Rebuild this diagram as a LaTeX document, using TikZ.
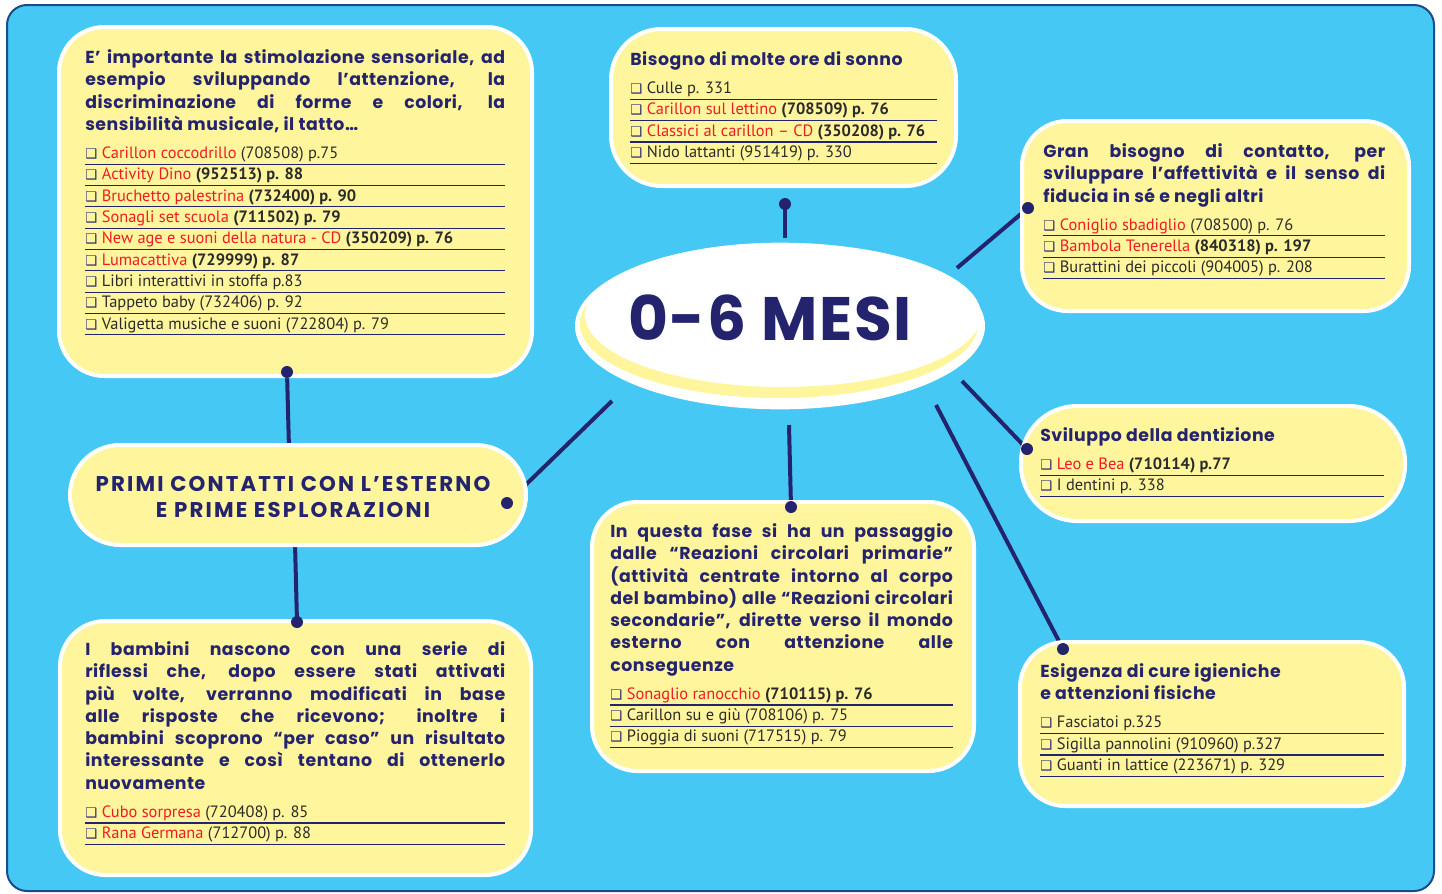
\documentclass[tikz,border=0pt]{standalone}
\usepackage{fontspec}
\setmainfont{PT Sans}
\newfontfamily\headfont{Poppins}[LetterSpace=3]
\newfontfamily\symfont{DejaVu Sans}
\usetikzlibrary{fit,shapes.geometric}

\definecolor{cielo}{HTML}{46C8F5}
\definecolor{giallo}{HTML}{FFF59C}
\definecolor{notte}{HTML}{24246E}
\definecolor{rosso}{HTML}{ED1C24}
\definecolor{bordo}{HTML}{1B4B8B}
\definecolor{scuro}{HTML}{2A2A2A}

\newcommand\quadro{{\symfont\fontsize{10}{10}\selectfont\color{notte}❑}}
\newcommand\riga[1]{\par\noindent\rlap{\color{notte}\rule[-4.7pt]{\hsize}{0.9pt}}\quadro\hspace{3.5pt}{\color{scuro}#1}}
\newcommand\rs[1]{{\color{rosso}#1}}
\newcommand\testa[1]{{\headfont\bfseries\fontsize{13}{16.7}\selectfont #1\par}\vspace{5pt}}

\tikzset{
  pannello/.style={draw=white, line width=3pt, fill=giallo, inner sep=0pt, rounded corners=#1},
  pannello/.default=34pt,
  testo/.style={anchor=north west, inner sep=0pt, align=justify, text=notte,
    font=\fontsize{12.3}{16}\selectfont},
  ellisse/.style={ellipse, inner sep=0pt, draw=none},
  filo/.style={draw=notte, line width=3pt},
  punto/.style={circle, fill=notte, inner sep=0pt, minimum size=9pt}
}

\begin{document}
\begin{tikzpicture}[x=0.75pt,y=-0.75pt]
  \useasboundingbox (0,0) rectangle (1442,893);
  \node[fit={(7,5) (1434,891)}, inner sep=0pt, draw=bordo, line width=1.5pt,
    fill=cielo, rounded corners=15pt] (sfondo) {};

  \coordinate (a1) at (785,238);  \coordinate (d1) at (785,204);
  \coordinate (a2) at (289,449);  \coordinate (d2) at (287,372);
  \coordinate (a3) at (612,401);  \coordinate (d3) at (507,503);
  \coordinate (a4) at (295,543);  \coordinate (d4) at (297,622);
  \coordinate (a5) at (789,425);  \coordinate (d5) at (791,507);
  \coordinate (a6) at (957,268);  \coordinate (d6) at (1028,208);
  \coordinate (a7) at (962,381);  \coordinate (d7) at (1027,449);
  \coordinate (a8) at (936,405);  \coordinate (d8) at (1063,649);
  \begin{scope}[filo]
    \draw (a1) -- (d1);
    \draw (a2) -- (d2);
    \draw (a3) -- (d3);
    \draw (a4) -- (d4);
    \draw (a5) -- (d5);
    \draw (a6) -- (d6);
    \draw (a7) -- (d7);
    \draw (a8) -- (d8);
  \end{scope}

  \node[pannello, fit={(59,27) (532,376)}] (b1) {};
  \node[pannello=38pt, fit={(611,29) (956,186)}] (b2) {};
  \node[pannello, fit={(1022,121) (1409,311)}] (b3) {};
  \node[pannello=42pt, fit={(1021,406) (1405,521)}] (b4) {};
  \node[pannello, fit={(1020,642) (1404,806)}] (b5) {};
  \node[pannello, fit={(592,502) (974,771)}] (b6) {};
  \node[pannello, fit={(60,621) (531,875)}] (b7) {};
  \node[pannello=37.5pt, fit={(70,445) (526,545)}] (b8) {};

  \node[ellisse, fill=white, minimum width=307.5pt, minimum height=125pt] (mesi) at (780,326) {};
  \node[ellisse, fill=giallo, minimum width=298.5pt, minimum height=111pt] (alone) at (779,324) {};
  \node[ellisse, fill=white, minimum width=297pt, minimum height=108pt] (cuore) at (783,315) {};
  \node[text=notte, font=\headfont\bfseries\fontsize{46}{46}\selectfont] (nome) at (770,318) {0-6 MESI};

  \foreach \i in {1,...,8}
    \node[punto] (p\i) at (d\i) {};

  \node[testo, text width=315pt] (t1) at (85,49.5) {%
    \testa{E’ importante la stimolazione sensoriale, ad\linebreak esempio sviluppando l’attenzione, la\linebreak discriminazione di forme e colori, la\linebreak sensibilità musicale, il tatto…}
    \riga{\rs{Carillon coccodrillo} (708508) p.75}
    \riga{\rs{Activity Dino} \textbf{(952513) p. 88}}
    \riga{\rs{Bruchetto palestrina} \textbf{(732400) p. 90}}
    \riga{\rs{Sonagli set scuola} \textbf{(711502) p. 79}}
    \riga{\rs{New age e suoni della natura - CD} \textbf{(350209) p. 76}}
    \riga{\rs{Lumacattiva} \textbf{(729999) p. 87}}
    \riga{Libri interattivi in stoffa p.83}
    \riga{Tappeto baby (732406) p. 92}
    \riga{Valigetta musiche e suoni (722804) p. 79}};

  \node[testo, text width=230pt] (t2) at (630,51.5) {%
    \testa{Bisogno di molte ore di sonno}
    \riga{Culle p. 331}
    \riga{\rs{Carillon sul lettino} \textbf{(708509) p. 76}}
    \riga{\rs{Classici al carillon – CD} \textbf{(350208) p. 76}}
    \riga{Nido lattanti (951419) p. 330}};

  \node[testo, text width=256.5pt] (t3) at (1043,143.5) {%
    \testa{Gran bisogno di contatto, per\linebreak sviluppare l’affettività e il senso di\linebreak fiducia in sé e negli altri}
    \riga{\rs{Coniglio sbadiglio} (708500) p. 76}
    \riga{\rs{Bambola Tenerella} \textbf{(840318) p. 197}}
    \riga{Burattini dei piccoli (904005) p. 208}};

  \node[testo, text width=258pt] (t4) at (1040,427.5) {%
    \testa{Sviluppo della dentizione}
    \riga{\rs{Leo e Bea} \textbf{(710114) p.77}}
    \riga{I dentini p. 338}};

  \node[testo, text width=258pt] (t5) at (1040,663.5) {%
    \testa{Esigenza di cure igieniche\newline e attenzioni fisiche}
    \riga{Fasciatoi p.325}
    \riga{Sigilla pannolini (910960) p.327}
    \riga{Guanti in lattice (223671) p. 329}};

  \node[testo, text width=257pt] (t6) at (610,523.5) {%
    \testa{In questa fase si ha un passaggio\linebreak dalle “Reazioni circolari primarie”\linebreak (attività centrate intorno al corpo\linebreak del bambino) alle “Reazioni circolari\linebreak secondarie”, dirette verso il mondo\linebreak esterno con attenzione alle\linebreak conseguenze}
    \riga{\rs{Sonaglio ranocchio} \textbf{(710115) p. 76}}
    \riga{Carillon su e giù (708106) p. 75}
    \riga{Pioggia di suoni (717515) p. 79}};

  \node[testo, text width=315pt] (t7) at (85,641.5) {%
    \testa{I bambini nascono con una serie di\linebreak riflessi che, dopo essere stati attivati\linebreak più volte, verranno modificati in base\linebreak alle risposte che ricevono; inoltre i\linebreak bambini scoprono “per caso” un risultato\linebreak interessante e così tentano di ottenerlo\linebreak nuovamente}
    \riga{\rs{Cubo sorpresa} (720408) p. 85}
    \riga{\rs{Rana Germana} (712700) p. 88}};

  \node[align=center, text=notte, font=\headfont\bfseries\addfontfeature{LetterSpace=10}\fontsize{16}{20}\selectfont] (t8) at (293,497)
    {PRIMI CONTATTI CON L’ESTERNO\\E PRIME ESPLORAZIONI};
\end{tikzpicture}
\end{document}
